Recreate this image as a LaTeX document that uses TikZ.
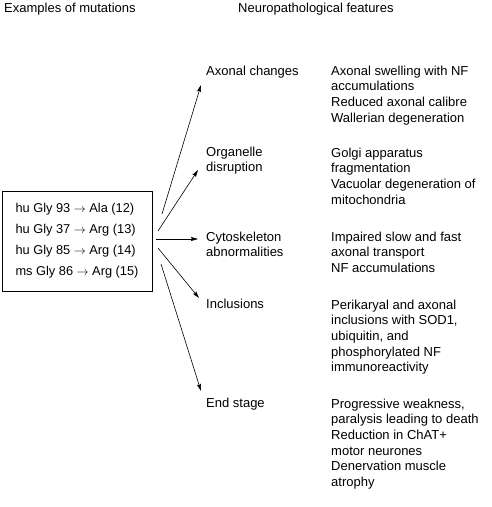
\documentclass[tikz,border=0pt]{standalone}
\usepackage{fontspec}
\setmainfont{Liberation Sans}
\usetikzlibrary{arrows.meta}
\begin{document}
\begin{tikzpicture}[x=1pt,y=-1pt,
  txt/.style={anchor=north west, inner sep=0pt, align=left, font=\fontsize{13}{15.7}\selectfont},
  arr/.style={-{Stealth[length=7pt,width=4pt,inset=1pt]}, line width=0.6pt},
  mbox/.style={draw, line width=0.8pt, minimum width=150pt, minimum height=100pt, inner sep=0pt, align=left, font=\fontsize{12.8}{21}\selectfont}]
\path[use as bounding box] (0,0) rectangle (492,507);
% headers
\node[txt] (hl) at (4,1) {\strut Examples of mutations};
\node[txt] (hr) at (238,1) {\strut Neuropathological features};
% mutation box
\node[mbox] (box) at (77,241) {hu Gly 93 $\rightarrow$ Ala (12)\\hu Gly 37 $\rightarrow$ Arg (13)\\hu Gly 85 $\rightarrow$ Arg (14)\\ms Gly 86 $\rightarrow$ Arg (15)};
% feature labels
\node[txt] (ax) at (206,64) {\strut Axonal changes};
\node[txt] (org) at (206,145) {\strut Organelle\\disruption};
\node[txt] (cyt) at (206,230) {\strut Cytoskeleton\\abnormalities};
\node[txt] (inc) at (206,297) {\strut Inclusions};
\node[txt] (end) at (206,396) {\strut End stage};
% descriptions
\node[txt] (d1) at (331,64) {\strut Axonal swelling with NF\\accumulations\\Reduced axonal calibre\\Wallerian degeneration};
\node[txt] (d2) at (331,146) {\strut Golgi apparatus\\fragmentation\\Vacuolar degeneration of\\mitochondria};
\node[txt] (d3) at (331,230) {\strut Impaired slow and fast\\axonal transport\\NF accumulations};
\node[txt] (d4) at (331,298) {\strut Perikaryal and axonal\\inclusions with SOD1,\\ubiquitin, and\\phosphorylated NF\\immunoreactivity};
\node[txt] (d5) at (331,397) {\strut Progressive weakness,\\paralysis leading to death\\Reduction in ChAT+\\motor neurones\\Denervation muscle\\atrophy};
% arrow ends
\coordinate (s1) at (162,214); \coordinate (t1) at (201,85);
\coordinate (s2) at (158,231); \coordinate (t2) at (198,170);
\coordinate (s3) at (156,239); \coordinate (t3) at (198,239);
\coordinate (s4) at (158,248); \coordinate (t4) at (199,298);
\coordinate (s5) at (161,264); \coordinate (t5) at (201,391);
\draw[arr] (s1) -- (t1);
\draw[arr] (s2) -- (t2);
\draw[arr] (s3) -- (t3);
\draw[arr] (s4) -- (t4);
\draw[arr] (s5) -- (t5);
\end{tikzpicture}
\end{document}
